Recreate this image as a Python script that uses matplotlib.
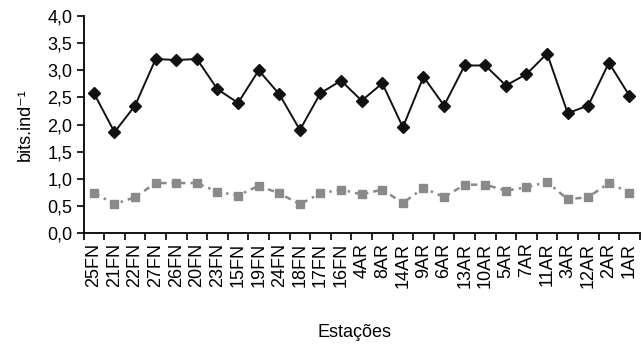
import matplotlib
matplotlib.use("Agg")
import matplotlib.pyplot as plt
from matplotlib.ticker import FuncFormatter

# --- dados ---
estacoes = ["25FN", "21FN", "22FN", "27FN", "26FN", "20FN", "23FN", "15FN", "19FN",
            "24FN", "18FN", "17FN", "16FN", "4AR", "8AR", "14AR", "9AR", "6AR",
            "13AR", "10AR", "5AR", "7AR", "11AR", "3AR", "12AR", "2AR", "1AR"]
diversidade = [2.58, 1.86, 2.35, 3.21, 3.19, 3.21, 2.65, 2.40, 3.00, 2.56, 1.90, 2.58,
               2.81, 2.44, 2.76, 1.95, 2.88, 2.35, 3.09, 3.09, 2.72, 2.93, 3.31, 2.21,
               2.35, 3.14, 2.53]
equitabilidade = [0.74, 0.53, 0.66, 0.92, 0.92, 0.92, 0.76, 0.69, 0.87, 0.73, 0.53, 0.73,
                  0.80, 0.71, 0.80, 0.55, 0.83, 0.66, 0.89, 0.89, 0.78, 0.84, 0.94, 0.62,
                  0.66, 0.92, 0.74]

plt.rcParams['font.family'] = ['Liberation Sans', 'DejaVu Sans']
FS = 13

fig = plt.figure(figsize=(6.43, 3.44), dpi=100)
ax = fig.add_axes([0.130, 0.323, 0.865, 0.630])

x = range(len(estacoes))
ax.plot(x, diversidade, color="#111111", lw=1.4, marker="D", ms=6)
ax.plot(x, equitabilidade, color="#8a8a8a", lw=1.8, ls=(0, (2.5, 2, 1, 2)),
        marker="s", ms=5.5)

ax.set_xlim(-0.5, len(estacoes) - 0.5)
ax.set_ylim(0, 4)
ax.set_yticks([0, 0.5, 1, 1.5, 2, 2.5, 3, 3.5, 4])
ax.yaxis.set_major_formatter(FuncFormatter(lambda v, p: f"{v:.1f}".replace(".", ",")))

# marcas do eixo x entre as categorias
ax.set_xticks([i - 0.5 for i in range(len(estacoes) + 1)])
ax.set_xticklabels([])
ax.set_xticks(list(x), minor=True)
ax.set_xticklabels(estacoes, minor=True, rotation=90, fontsize=FS)
ax.tick_params(axis="x", which="minor", length=0, pad=7)
ax.tick_params(axis="x", which="major", length=5, width=1.2)
ax.tick_params(axis="y", labelsize=FS, length=5, width=1.2, pad=3)

for s in ["top", "right"]:
    ax.spines[s].set_visible(False)
for s in ["left", "bottom"]:
    ax.spines[s].set_linewidth(1.3)

ax.set_ylabel("bits.ind\u207b\u00b9", fontsize=FS)
ax.yaxis.set_label_coords(-0.09, 0.5)
fig.text(0.552, 0.032, "Estações", ha="center", va="center", fontsize=FS)

fig.savefig("out.png", dpi=100)
